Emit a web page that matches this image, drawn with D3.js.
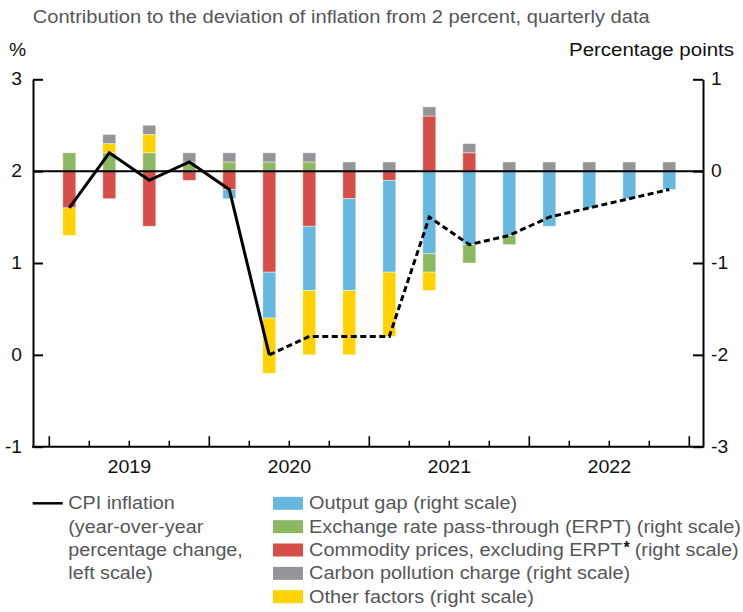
<!DOCTYPE html>
<html>
<head>
<meta charset="utf-8">
<script src="https://cdn.jsdelivr.net/npm/d3@7"></script>
<style>
  body { margin: 0; background: #fff; }
  svg { display: block; font-family: "Liberation Sans", Arial, sans-serif; }
</style>
</head>
<body>
<svg id="chart" width="743" height="612"></svg>
<script>
// ---------- data ----------
const quarters = ["2019Q1","2019Q2","2019Q3","2019Q4","2020Q1","2020Q2","2020Q3","2020Q4",
                  "2021Q1","2021Q2","2021Q3","2021Q4","2022Q1","2022Q2","2022Q3","2022Q4"];
const years = ["2019","2020","2021","2022"];
const cpiInflation   = [1.6, 2.2, 1.9, 2.1, 1.8, 0.0, 0.2, 0.2, 0.2, 1.5, 1.2, 1.3, 1.5, 1.6, 1.7, 1.8];
const solidUntil = 5; // index of last solid-line quarter, dashed afterwards
const outputGap      = [0, 0, 0, 0, -0.1, -0.5, -0.7, -1.0, -1.0, -0.9, -0.8, -0.7, -0.6, -0.4, -0.3, -0.2];
const erpt           = [0.2, 0.2, 0.2, 0.1, 0.1, 0.1, 0.1, 0, 0, -0.2, -0.2, -0.1, 0, 0, 0, 0];
const commodity      = [-0.4, -0.3, -0.6, -0.1, -0.2, -1.1, -0.6, -0.3, -0.1, 0.6, 0.2, 0, 0, 0, 0, 0];
const carbon         = [0, 0.1, 0.1, 0.1, 0.1, 0.1, 0.1, 0.1, 0.1, 0.1, 0.1, 0.1, 0.1, 0.1, 0.1, 0.1];
const otherFactors   = [-0.3, 0.1, 0.2, 0, 0, -0.6, -0.7, -0.7, -0.7, -0.2, 0, 0, 0, 0, 0, 0];
const leftTicks  = [-1, 0, 1, 2, 3];
const rightTicks = [-3, -2, -1, 0, 1];

const seriesKeys = ["commodity", "outputGap", "erpt", "other", "carbon"]; // stacking order
const seriesData = { commodity, outputGap, erpt, other: otherFactors, carbon };
const colors = { outputGap: "#68b8de", erpt: "#8cb862", commodity: "#d54f48", carbon: "#939598", other: "#ffd200" };
const legendKeys = ["outputGap", "erpt", "commodity", "carbon", "other"];
const legendLabels = {
  outputGap: "Output gap (right scale)",
  erpt: "Exchange rate pass-through (ERPT) (right scale)",
  commodity: "Commodity prices, excluding ERPT",
  carbon: "Carbon pollution charge (right scale)",
  other: "Other factors (right scale)"
};
const cpiLegendLines = ["CPI inflation", "(year-over-year", "percentage change,", "left scale)"];

// ---------- helpers ----------
function stretch(sel, factor) {
  sel.each(function () {
    const w = this.getComputedTextLength();
    d3.select(this).attr("textLength", w * factor).attr("lengthAdjust", "spacingAndGlyphs");
  });
}
function fitTo(sel, width) {
  sel.attr("textLength", width).attr("lengthAdjust", "spacingAndGlyphs");
}

// ---------- layout ----------
const svg = d3.select("#chart");
const axL = 33, axR = 703, yTop = 79.3, yBot = 446.7;
const x = d3.scaleBand().domain(quarters).range([49.3, 689.3]).paddingInner(0.675).paddingOuter(0.3375);
const yL = d3.scaleLinear().domain([-1, 3]).range([yBot, yTop]);
const yR = d3.scaleLinear().domain([-3, 1]).range([yBot, yTop]);
const txtGrey = "#555658";
const FS = "18.3px";

// title & axis titles
fitTo(svg.append("text").attr("x", 32.7).attr("y", 22.5).attr("fill", txtGrey)
  .style("font-size", FS).text("Contribution to the deviation of inflation from 2 percent, quarterly data"), 617);
stretch(svg.append("text").attr("x", 9).attr("y", 56).attr("fill", "#111").style("font-size", "17.5px").text("%"), 1.1);
fitTo(svg.append("text").attr("x", 734).attr("y", 56).attr("text-anchor", "end").attr("fill", "#111")
  .style("font-size", FS).text("Percentage points"), 165);

// bars
const table = quarters.map((q, i) => {
  const o = { q };
  seriesKeys.forEach(k => o[k] = seriesData[k][i]);
  return o;
});
const stack = d3.stack().keys(seriesKeys).offset(d3.stackOffsetDiverging)(table);
svg.append("g").selectAll("g").data(stack).join("g")
  .attr("fill", d => colors[d.key])
  .selectAll("rect").data(d => d.filter(s => Math.abs(s[1] - s[0]) > 1e-9)).join("rect")
  .attr("x", d => x(d.data.q))
  .attr("width", x.bandwidth())
  .attr("y", d => yR(Math.max(d[0], d[1])))
  .attr("height", d => Math.abs(yR(d[0]) - yR(d[1])))
  .attr("stroke", "rgba(255,255,255,0.55)").attr("stroke-width", 0.8);

// zero line (left 2 / right 0)
svg.append("line").attr("x1", axL).attr("x2", axR).attr("y1", yR(0)).attr("y2", yR(0))
  .attr("stroke", "#000").attr("stroke-width", 2);

// axes
const leftAxis = svg.append("g").attr("transform", `translate(${axL},0)`)
  .call(d3.axisLeft(yL).tickValues(leftTicks).tickFormat(d => String(d)).tickSize(-10).tickSizeOuter(0).tickPadding(11));
const rightAxis = svg.append("g").attr("transform", `translate(${axR},0)`)
  .call(d3.axisRight(yR).tickValues(rightTicks).tickFormat(d => String(d)).tickSize(-10).tickSizeOuter(0).tickPadding(8));
[leftAxis, rightAxis].forEach(g => {
  g.select(".domain").attr("stroke", "#000").attr("stroke-width", 2);
  g.selectAll(".tick line").attr("stroke", "#000").attr("stroke-width", 2);
  g.selectAll(".tick text").attr("fill", "#111").style("font-size", "17.5px")
    .style("font-family", "Liberation Sans, Arial, sans-serif");
  stretch(g.selectAll(".tick text"), 1.1);
});

// bottom axis
const xg = svg.append("g");
xg.append("line").attr("x1", axL - 1).attr("x2", axR + 1).attr("y1", yBot).attr("y2", yBot)
  .attr("stroke", "#000").attr("stroke-width", 2);
const step = x.step();
const bounds = quarters.map(q => x(q) + x.bandwidth() / 2 - step / 2)
  .concat([x(quarters[quarters.length - 1]) + x.bandwidth() / 2 + step / 2]);
xg.selectAll("line.tk").data(bounds).join("line").attr("class", "tk")
  .attr("x1", d => d).attr("x2", d => d)
  .attr("y1", yBot).attr("y2", (d, i) => yBot - (i % 4 === 0 ? 10.5 : 6))
  .attr("stroke", "#000").attr("stroke-width", 1.6);
stretch(xg.selectAll("text").data(years).join("text")
  .attr("x", (d, i) => bounds[i * 4 + 2])
  .attr("y", 472.5).attr("text-anchor", "middle").attr("fill", "#111")
  .style("font-size", "17.5px").text(d => d), 1.12);

// CPI line
const cpiPts = cpiInflation.map((v, i) => ({ v, i }));
const lineXY = d3.line().x(d => x(quarters[d.i]) + x.bandwidth() / 2).y(d => yL(d.v));
svg.append("path").datum(cpiPts.filter(d => d.i <= solidUntil)).attr("d", lineXY)
  .attr("fill", "none").attr("stroke", "#000").attr("stroke-width", 3).attr("stroke-linejoin", "miter");
svg.append("path").datum(cpiPts.filter(d => d.i >= solidUntil)).attr("d", lineXY)
  .attr("fill", "none").attr("stroke", "#000").attr("stroke-width", 3).attr("stroke-dasharray", "6,3.5");

// legend
const lg = svg.append("g");
lg.append("line").attr("x1", 32.7).attr("x2", 62.7).attr("y1", 503.3).attr("y2", 503.3)
  .attr("stroke", "#000").attr("stroke-width", 2.5);
stretch(lg.selectAll("text.cpi").data(cpiLegendLines).join("text").attr("class", "cpi")
  .attr("x", 68.3).attr("y", (d, i) => 509.3 + i * 23.35).attr("fill", txtGrey)
  .style("font-size", FS).text(d => d), 1.08);
const rows = lg.selectAll("g.row").data(legendKeys).join("g").attr("class", "row")
  .attr("transform", (d, i) => `translate(0,${509.3 + i * 23.35})`);
rows.append("rect").attr("x", 273).attr("y", -12.5).attr("width", 30).attr("height", 13)
  .attr("fill", d => colors[d]);
const LF = 1.09;
rows.each(function (key) {
  const g = d3.select(this);
  const t = g.append("text").attr("x", 309).attr("y", 0).attr("fill", txtGrey).style("font-size", FS)
    .text(legendLabels[key]);
  const w = t.node().getComputedTextLength() * LF;
  t.attr("textLength", w).attr("lengthAdjust", "spacingAndGlyphs");
  if (key === "commodity") {
    const star = g.append("text").attr("x", 309 + w + 1).attr("y", -3.5).attr("fill", "#111")
      .style("font-size", "16px").style("font-weight", "bold").text("*");
    const sw = star.node().getComputedTextLength();
    const t2 = g.append("text").attr("x", 309 + w + 1 + sw + 5).attr("y", 0).attr("fill", txtGrey)
      .style("font-size", FS).text("(right scale)");
    stretch(t2, LF);
  }
});
</script>
</body>
</html>
